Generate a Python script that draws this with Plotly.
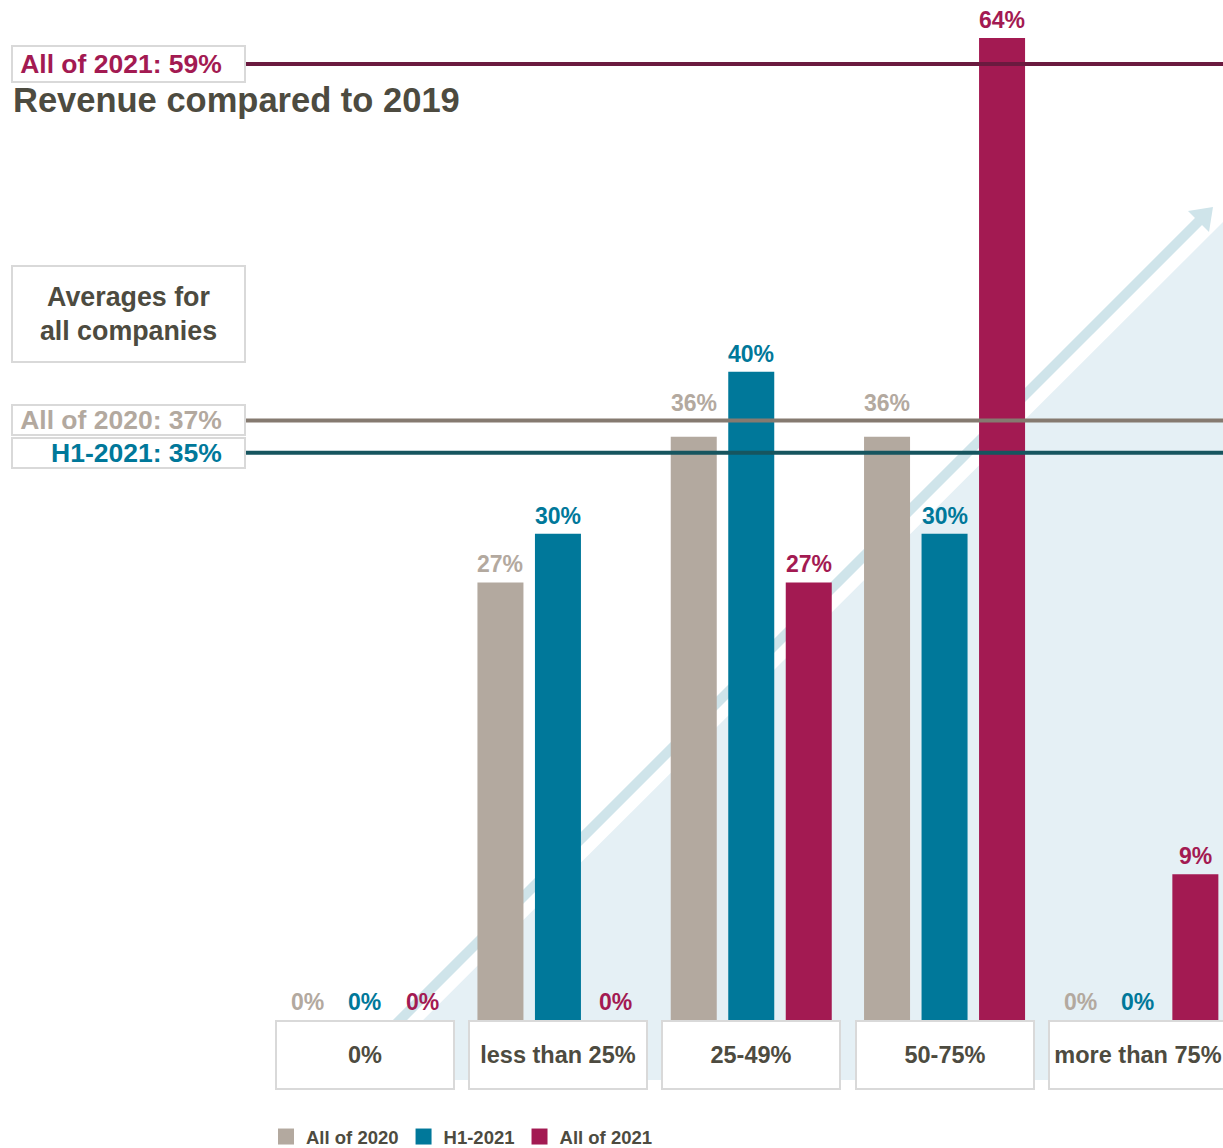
import plotly.graph_objects as go

# ---------------- data ----------------
categories = ["0%", "less than 25%", "25-49%", "50-75%", "more than 75%"]
series_names = ["All of 2020", "H1-2021", "All of 2021"]
vals_2020 = [0, 27, 36, 36, 0]
vals_h1_2021 = [0, 30, 40, 30, 0]
vals_2021 = [0, 0, 27, 64, 9]
avg_names = ["All of 2021", "All of 2020", "H1-2021"]
avg_values = [59, 37, 35]
title_text = "Revenue compared to 2019"
box_text = "Averages for<br>all companies"

# ---------------- styles ----------------
W, H = 1223, 1148
ML, MR, MT, MB = 268, 0, 38, 128
PW, PH = W - ML - MR, H - MT - MB
YMAX = 60.6
PITCH = 193.3
XMAX = -0.5 + PW / PITCH
PX_PER_UNIT = PH / YMAX

bar_colors = ["#B3A99F", "#00789A", "#A31A52"]
label_colors = ["#B3A99F", "#00789A", "#A31A52"]
line_colors = ["#6B1A3F", "#857A70", "#16555F"]
avg_text_colors = ["#A31A52", "#B3A99F", "#00789A"]
dark = "#4D4B40"
border = "#D9D9D9"
FONT = "Liberation Sans, Arial, Helvetica, sans-serif"

def px(x):
    return (x - ML) / PW

def py(y):
    return (MT + PH - y) / PH

series = [vals_2020, vals_h1_2021, vals_2021]
xs = list(range(len(categories)))

fig = go.Figure()
for name, vals, col in zip(series_names, series, bar_colors):
    fig.add_trace(go.Bar(x=xs, y=vals, name=name, marker_color=col,
                         marker_line_width=0, showlegend=False,
                         hoverinfo="skip"))
# legend swatches
for name, col in zip(series_names, bar_colors):
    fig.add_trace(go.Scatter(x=[None], y=[None], mode="markers", name=name,
                             marker=dict(symbol="square", size=22, color=col)))

bargap = 0.1075
bargroupgap = 0.2
slot = (1 - bargap) / 3

annotations = []
# bar value labels (lifted above an average line if that line would cross the text)
for j, (vals, col) in enumerate(zip(series, label_colors)):
    for i, v in enumerate(vals):
        y = min(v, YMAX)
        shift = 3
        for a in avg_values:
            if v < a and (a - v) * PX_PER_UNIT < 24:
                y = a
                shift = 2
        annotations.append(dict(
            x=i + (j - 1) * slot, y=y, xref="x", yref="y",
            text=f"<b>{v}%</b>", showarrow=False, yanchor="bottom", yshift=shift,
            font=dict(family=FONT, size=23, color=col)))

# category boxes
for i, c in enumerate(categories):
    annotations.append(dict(
        x=i, y=py(1055), xref="x", yref="paper", text=f"<b>{c}</b>",
        showarrow=False, xanchor="center", yanchor="middle",
        width=176, height=66, bgcolor="white", bordercolor=border,
        borderwidth=2, borderpad=0,
        font=dict(family=FONT, size=23.5, color=dark)))

# average boxes attached to lines
box_heights = [34, 28, 28]
for name, v, tc, bh in zip(avg_names, avg_values, avg_text_colors, box_heights):
    annotations.append(dict(
        x=px(11), y=v, xref="paper", yref="y", xanchor="left", yanchor="middle",
        text=f"<b>{name}: {v}%</b>" + "\u00a0" * 3, showarrow=False,
        width=231, height=bh, align="right", bgcolor="white",
        bordercolor=border, borderwidth=2, borderpad=0,
        font=dict(family=FONT, size=26.5, color=tc)))

# title
annotations.append(dict(
    x=px(11), y=py(100), xref="paper", yref="paper", xanchor="left",
    yanchor="middle", text=f"<b>{title_text}</b>", showarrow=False,
    font=dict(family=FONT, size=34.5, color=dark)))

# averages box
annotations.append(dict(
    x=px(11), y=py(314), xref="paper", yref="paper", xanchor="left",
    yanchor="middle", text=f"<b>{box_text}</b>", showarrow=False,
    width=231, height=94, align="center", bgcolor="white",
    bordercolor=border, borderwidth=2, borderpad=0,
    font=dict(family=FONT, size=26.8, color=dark)))

shapes = []
# background triangle
shapes.append(dict(
    type="path", xref="paper", yref="paper", layer="below",
    path=f"M {px(363)} {py(1080)} L {px(1223)} {py(222)} L {px(1223)} {py(1080)} Z",
    fillcolor="#E5F0F5", line=dict(width=0)))
# arrow shaft
shapes.append(dict(
    type="line", xref="paper", yref="paper", layer="below",
    x0=px(345), y0=py(1075), x1=px(1200), y1=py(220),
    line=dict(color="#CFE4EA", width=10)))
# arrow head
shapes.append(dict(
    type="path", xref="paper", yref="paper", layer="below",
    path=f"M {px(1213)} {py(207)} L {px(1188)} {py(211)} L {px(1209)} {py(232)} Z",
    fillcolor="#CFE4EA", line=dict(width=0)))
# average lines
for v, lc in zip(avg_values, line_colors):
    shapes.append(dict(
        type="line", xref="paper", yref="y", layer="above",
        x0=px(246), x1=1, y0=v, y1=v, line=dict(color=lc, width=4)))

fig.update_layout(
    width=W, height=H,
    margin=dict(l=ML, r=MR, t=MT, b=MB, pad=0, autoexpand=False),
    paper_bgcolor="white", plot_bgcolor="rgba(0,0,0,0)",
    barmode="group", bargap=bargap, bargroupgap=bargroupgap,
    xaxis=dict(range=[-0.5, XMAX], showticklabels=False, showgrid=False,
               zeroline=False, showline=False, ticks="", fixedrange=True),
    yaxis=dict(range=[0, YMAX], showticklabels=False, showgrid=False,
               zeroline=False, showline=False, ticks="", fixedrange=True),
    showlegend=True,
    legend=dict(orientation="h", x=px(266), xanchor="left", y=py(1137),
                yanchor="middle", bgcolor="rgba(0,0,0,0)", borderwidth=0,
                font=dict(family=FONT, size=18.5, color=dark, weight="bold"),
                itemclick=False, itemdoubleclick=False),
    annotations=annotations, shapes=shapes,
    font=dict(family=FONT),
)

fig.write_html(
    "out.html",
    config=dict(displayModeBar=False, responsive=False),
    post_script=("document.body.style.margin='0';"
                 "document.body.style.overflow='hidden';"
                 "document.documentElement.style.overflow='hidden';"),
)
